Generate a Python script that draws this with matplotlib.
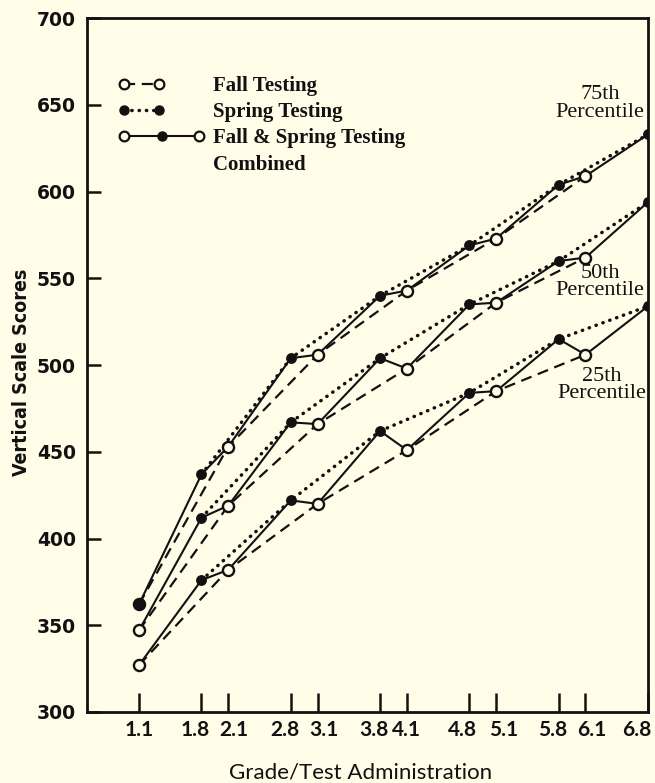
import matplotlib
matplotlib.use("Agg")
import matplotlib.pyplot as plt
from matplotlib.lines import Line2D
from matplotlib.legend_handler import HandlerLine2D, HandlerTuple
from matplotlib.transforms import ScaledTranslation

# ---- data ----
grades = [1.1, 1.8, 2.1, 2.8, 3.1, 3.8, 4.1, 4.8, 5.1, 5.8, 6.1, 6.8]
tick_labels = ["1.1", "1.8", "2.1", "2.8", "3.1", "3.8", "4.1", "4.8", "5.1", "5.8", "6.1", "6.8"]
fall_grades = [1.1, 2.1, 3.1, 4.1, 5.1, 6.1]
spring_grades = [1.8, 2.8, 3.8, 4.8, 5.8, 6.8]

p75_fall = [362, 453, 506, 543, 573, 609]
p75_spring = [437, 504, 540, 569, 604, 633]
p50_fall = [347, 419, 466, 498, 536, 562]
p50_spring = [412, 467, 504, 535, 560, 594]
p25_fall = [327, 382, 420, 451, 485, 506]
p25_spring = [376, 422, 462, 484, 515, 534]

y_ticks = [300, 350, 400, 450, 500, 550, 600, 650, 700]
percentile_labels = ["75th\nPercentile", "50th\nPercentile", "25th\nPercentile"]

BG = "#fffde8"
INK = "#111111"

fig = plt.figure(figsize=(6.55, 7.83), dpi=100, facecolor=BG)
ax = fig.add_axes([0.1328, 0.0907, 0.8565, 0.886])
ax.set_facecolor(BG)

dash = (0, (5, 3))
dot = (0, (0.1, 2.0))

series = [(p75_fall, p75_spring, True), (p50_fall, p50_spring, False), (p25_fall, p25_spring, False)]
for fall, spring, first_filled in series:
    comb_x, comb_y = [], []
    for i in range(len(fall)):
        comb_x += [fall_grades[i], spring_grades[i]]
        comb_y += [fall[i], spring[i]]
    ax.plot(fall_grades, fall, color=INK, lw=1.6, linestyle=dash, zorder=2)
    ax.plot(spring_grades, spring, color=INK, lw=2.5, linestyle=dot,
            dash_capstyle="round", zorder=2)
    ax.plot(comb_x, comb_y, color=INK, lw=1.5, zorder=3)
    ax.plot(fall_grades, fall, ls="none", marker="o", ms=8, mfc=BG, mec=INK, mew=1.7, zorder=4)
    ax.plot(spring_grades, spring, ls="none", marker="o", ms=6.8, mfc=INK, mec=INK, zorder=4)
    if first_filled:
        ax.plot(fall_grades[:1], fall[:1], ls="none", marker="o", ms=6.8, mfc=INK, mec=INK, zorder=5)

ax.set_xlim(0.518, 6.8)
ax.set_ylim(300, 700)
ax.set_xticks(grades)
ax.set_xticklabels(tick_labels, fontfamily="Lato", fontweight="bold", fontsize=15)
ax.set_yticks(y_ticks)
ax.set_yticklabels([str(v) for v in y_ticks], fontfamily="DejaVu Sans", fontweight="bold", fontsize=13.5)
ax.tick_params(axis="x", direction="in", length=14, width=1.8, pad=6, colors=INK)
ax.tick_params(axis="y", direction="in", length=10, width=1.8, pad=8, colors=INK)
for s in ax.spines.values():
    s.set_linewidth(2.0)
    s.set_color(INK)

# hand-set label nudges as in the original (pixels)
nudges = [0, -6, 6, -6, 6, -6, 0, -7, 7, -6, 6, -11]
for lab, dx in zip(ax.get_xticklabels(), nudges):
    lab.set_transform(lab.get_transform() + ScaledTranslation(dx / 100.0, 0, fig.dpi_scale_trans))

ax.set_xlabel("Grade/Test Administration", fontfamily="Lato", fontsize=16, labelpad=16, color=INK)
ax.xaxis.label.set_x(0.487)
ax.set_ylabel("Vertical Scale Scores", fontfamily="DejaVu Sans", fontstretch="condensed",
              fontweight="bold", fontsize=14, labelpad=4, color=INK)
ax.yaxis.label.set_y(0.49)

# percentile annotations
ann_pos = [(6.262, 651), (6.262, 548), (6.279, 488.5)]
for (x, y), lab in zip(ann_pos, percentile_labels):
    ax.text(x, y, lab, ha="center", va="center", fontfamily="Liberation Serif",
            fontsize=16, linespacing=0.9, color=INK)

# legend
class PartialLine(HandlerLine2D):
    def __init__(self, frac=1.0, **kw):
        super().__init__(**kw)
        self.frac = frac

    def create_artists(self, legend, orig_handle, xdescent, ydescent, width, height, fontsize, trans):
        return super().create_artists(legend, orig_handle, xdescent, ydescent,
                                      width * self.frac, height, fontsize, trans)

h_fall = Line2D([], [], color=INK, lw=1.6, linestyle=dash, marker="o", ms=7, mfc=BG, mec=INK, mew=1.6)
h_spring = Line2D([], [], color=INK, lw=2.5, linestyle=dot, dash_capstyle="round",
                  marker="o", ms=6.5, mfc=INK, mec=INK)
h_comb = Line2D([], [], color=INK, lw=1.5, marker="o", ms=7, mfc=BG, mec=INK, mew=1.6)
h_comb_mid = Line2D([], [], ls="none", marker="o", ms=6.5, mfc=INK, mec=INK)
h_blank = Line2D([], [], ls="none")

leg = ax.legend([h_fall, h_spring, (h_comb, h_comb_mid), h_blank],
                ["Fall Testing", "Spring Testing", "Fall & Spring Testing", "Combined"],
                handler_map={h_fall: PartialLine(frac=0.54, numpoints=2),
                             h_spring: PartialLine(frac=0.54, numpoints=2),
                             h_comb: HandlerLine2D(numpoints=2),
                             tuple: HandlerTuple(ndivide=1, pad=0)},
                numpoints=1, loc="upper left", bbox_to_anchor=(0.022, 0.944),
                frameon=False, handlelength=4.2, handletextpad=0.38, labelspacing=0.3,
                prop={"family": "Liberation Serif", "weight": "bold", "size": 15})
for t in leg.get_texts():
    t.set_color(INK)

fig.savefig("out.png", dpi=100, facecolor=BG)
